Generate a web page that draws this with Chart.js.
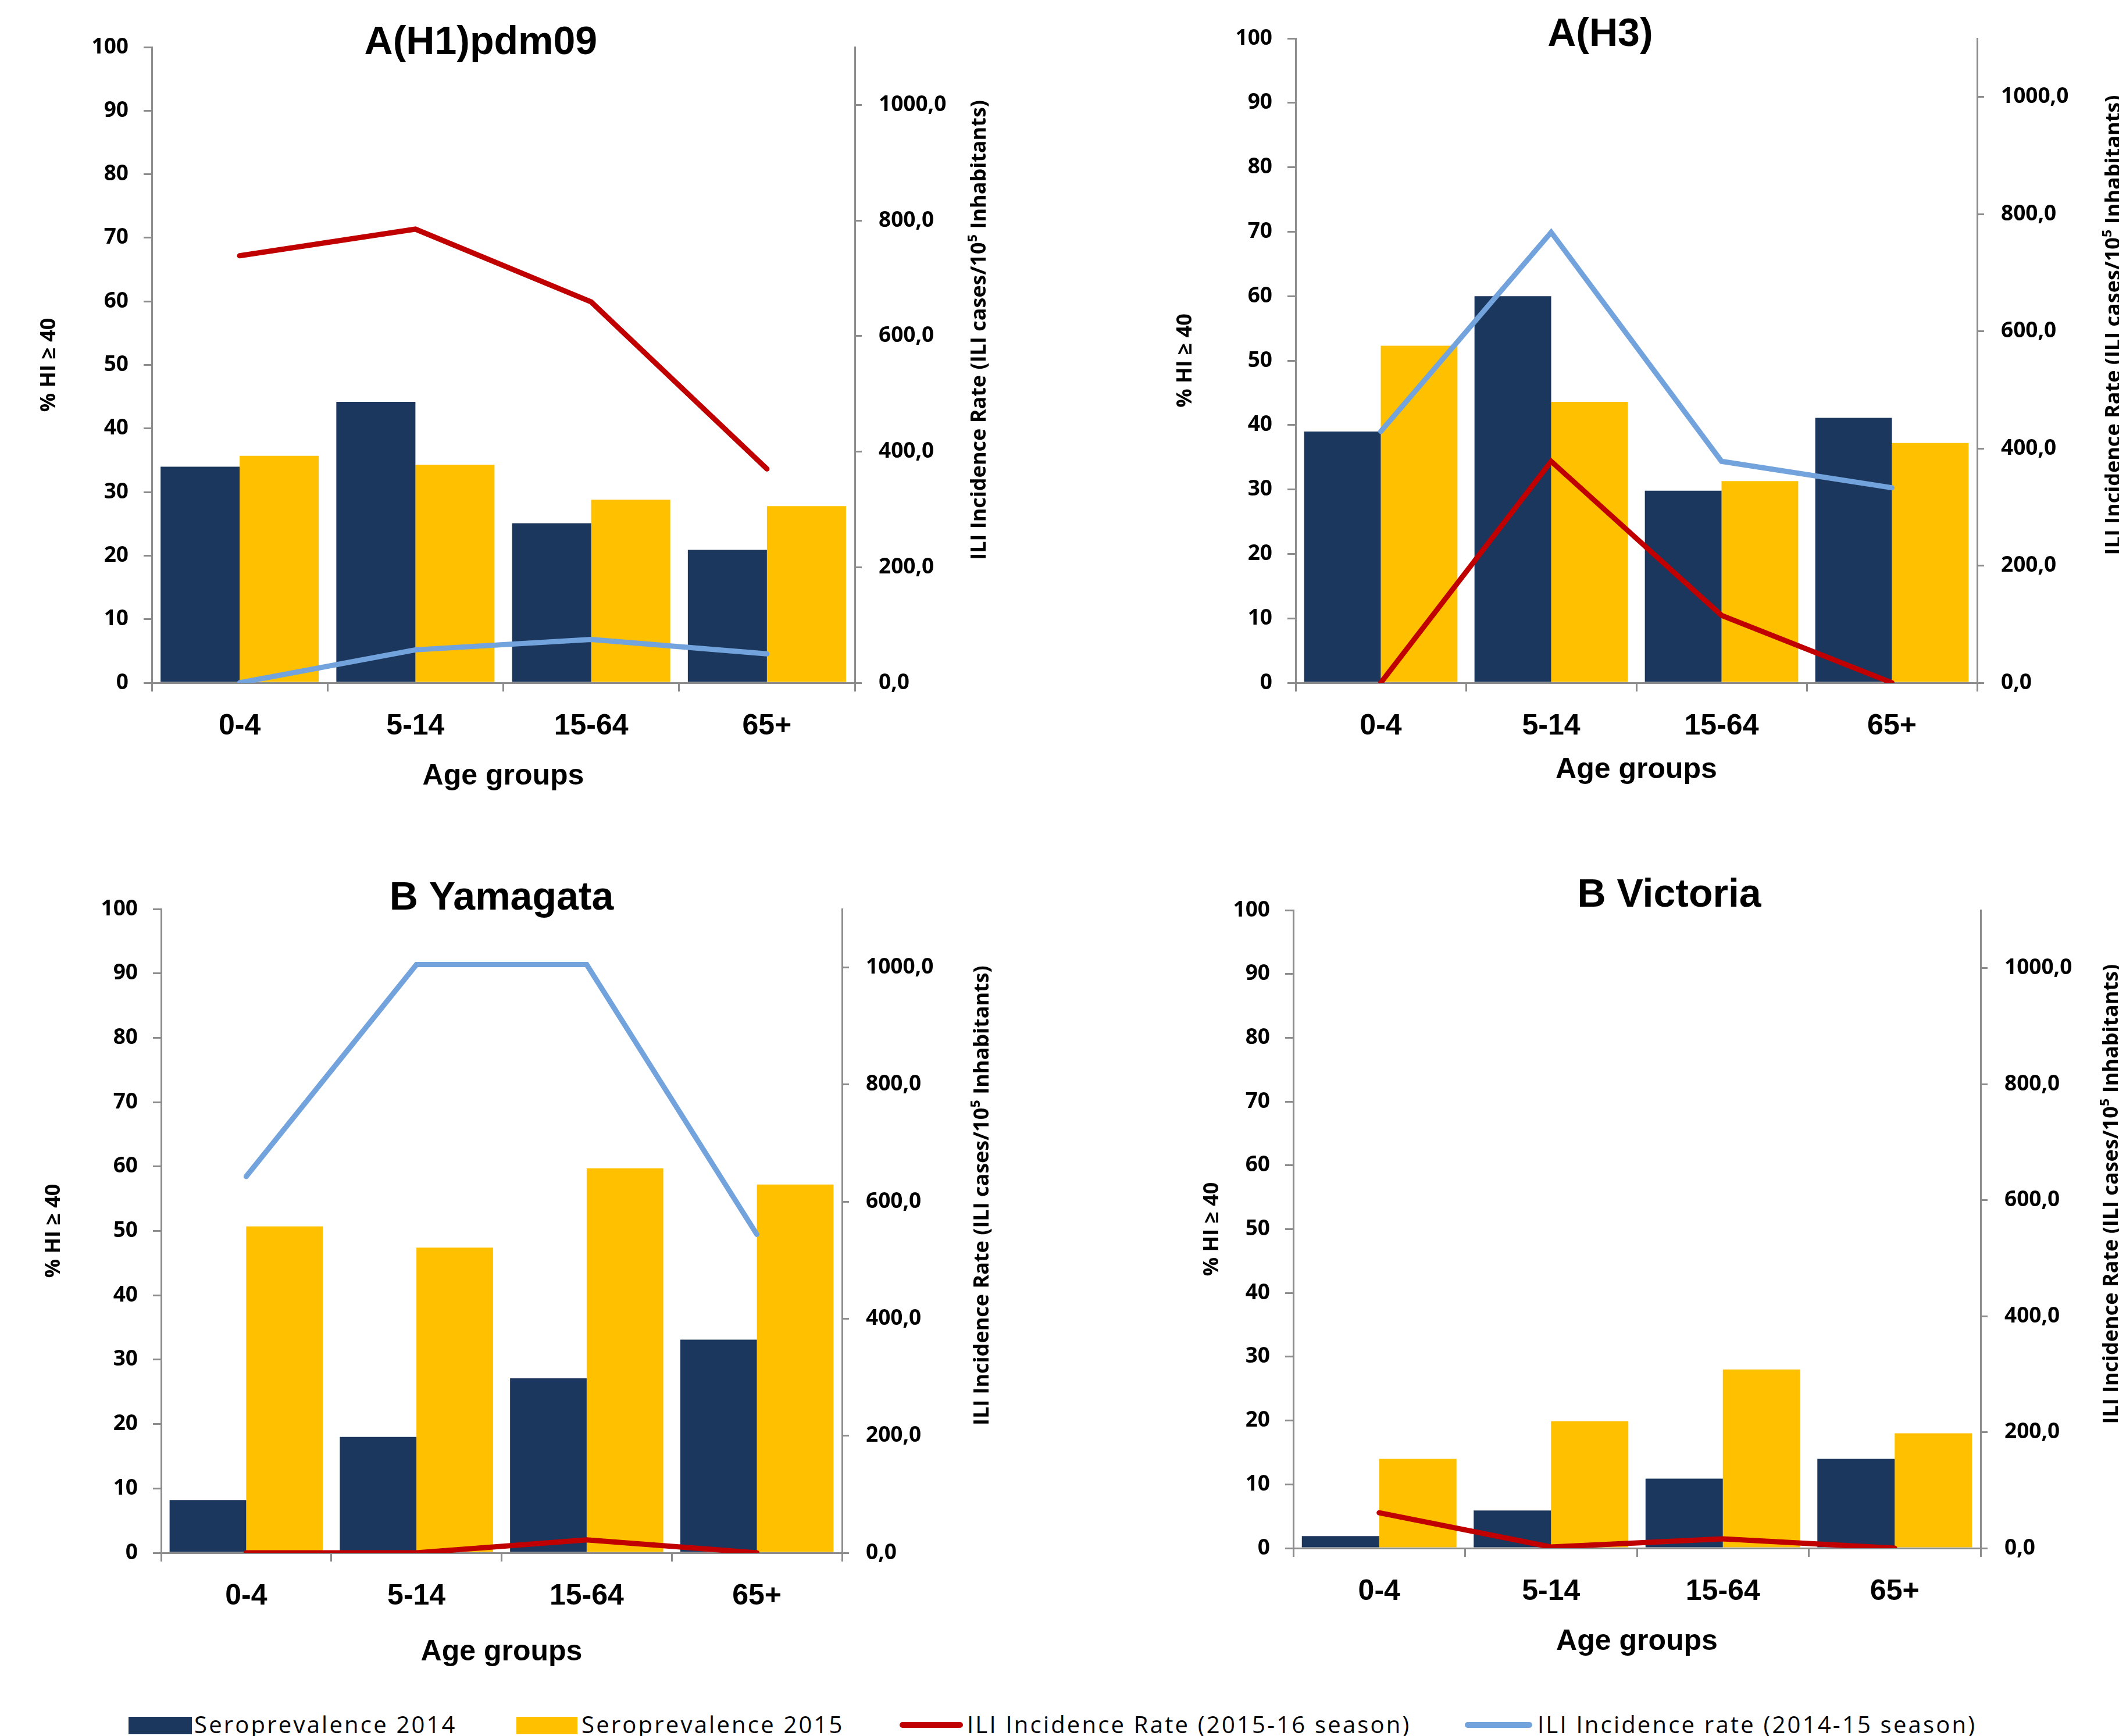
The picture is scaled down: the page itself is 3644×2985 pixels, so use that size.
<!DOCTYPE html>
<html>
<head>
<meta charset="utf-8">
<script src="https://cdn.jsdelivr.net/npm/chart.js@4.4.1/dist/chart.umd.min.js"></script>
<style>
    html, body { margin: 0; padding: 0; background: #fff; }
    body { width: 3644px; height: 2985px; position: relative; overflow: hidden; font-family: "Open Sans", sans-serif; }
    canvas { position: absolute; }
    .lg-box { position: absolute; }
    .lg-text { position: absolute; top: 2940px; height: 50px; line-height: 50px; font-size: 40px; letter-spacing: 3.2px; color: #000; white-space: nowrap; }
</style>
</head>
<body>
<canvas id="c1"></canvas>
<canvas id="c2"></canvas>
<canvas id="c3"></canvas>
<canvas id="c4"></canvas>

<div class="lg-box" style="left:221px;top:2952px;width:109px;height:30px;background:#1b375d"></div>
<div class="lg-text" style="left:334px">Seroprevalence 2014</div>
<div class="lg-box" style="left:888px;top:2952px;width:105px;height:30px;background:#ffc000"></div>
<div class="lg-text" style="left:1000px">Seroprevalence 2015</div>
<div class="lg-box" style="left:1547px;top:2961px;width:109px;height:10px;border-radius:5px;background:#c00000"></div>
<div class="lg-text" style="left:1663px">ILI Incidence Rate (2015-16 season)</div>
<div class="lg-box" style="left:2519px;top:2961px;width:116px;height:10px;border-radius:5px;background:#72a3dc"></div>
<div class="lg-text" style="left:2644px">ILI Incidence rate (2014-15 season)</div>

<script>
// Age groups on the x axis
const ageGroups = ['0-4', '5-14', '15-64', '65+'];

// A(H1)pdm09
const h1Sero2014 = [34.0, 44.2, 25.1, 20.9];
const h1Sero2015 = [35.7, 34.3, 28.8, 27.8];
const h1Ili1516 = [739, 785, 659, 370];
const h1Ili1415 = [0, 57, 75, 50];

// A(H3)
const h3Sero2014 = [39.0, 60.0, 29.8, 41.1];
const h3Sero2015 = [52.3, 43.6, 31.3, 37.2];
const h3Ili1516 = [0, 378, 115, 0];
const h3Ili1415 = [429, 769, 378, 333];

// B Yamagata
const yamSero2014 = [8.2, 18.0, 27.1, 33.1];
const yamSero2015 = [50.7, 47.4, 59.7, 57.2];
const yamIli1516 = [0, 0, 22, 0];
const yamIli1415 = [643, 1005, 1005, 544];

// B Victoria (no 2014-15 line drawn)
const vicSero2014 = [1.9, 5.9, 10.9, 14.0];
const vicSero2015 = [14.0, 19.9, 28.0, 18.0];
const vicIli1516 = [61, 2, 16, 0];
const vicIli1415 = [null, null, null, null];

const leftTitle = '% HI \u2265 40';
const rightTitle = 'ILI Incidence Rate (ILI cases/10\u2075 Inhabitants)';
const xTitle = 'Age groups';

const AXIS_GREY = '#8c8c8c';
const PAD_TOP = 70;
const RIGHT_W = 270;

// Panel titles and the right axis title (which reads bottom-to-top)
const panelText = {
    id: 'panelText',
    afterDraw(chart, args, opts) {
        const { ctx, chartArea: a } = chart;
        ctx.save();
        ctx.fillStyle = '#000';
        ctx.textAlign = 'center';
        ctx.font = 'bold 68px "Liberation Sans", Arial, sans-serif';
        ctx.textBaseline = 'alphabetic';
        ctx.fillText(opts.title, a.left + opts.titleX * a.width, a.top + opts.titleDy);

        const y2 = chart.scales.y2;
        ctx.translate(y2.left + opts.rightX, a.top + 0.445 * a.height);
        ctx.rotate(-Math.PI / 2);
        ctx.font = 'bold 36px "Open Sans", sans-serif';
        ctx.textBaseline = 'middle';
        ctx.fillText(rightTitle, 0, 0);
        ctx.restore();
    }
};

function makePanel(canvasId, geo, title, sero2014, sero2015, ili1516, ili1415) {
    const canvas = document.getElementById(canvasId);
    const w = geo.LW + (geo.R - geo.L) + RIGHT_W;
    const h = PAD_TOP + (geo.B - geo.T) + geo.XH;
    canvas.width = w;
    canvas.height = h;
    canvas.style.left = (geo.L - geo.LW) + 'px';
    canvas.style.top = (geo.T - PAD_TOP) + 'px';
    canvas.style.width = w + 'px';
    canvas.style.height = h + 'px';

    return new Chart(canvas.getContext('2d'), {
        type: 'bar',
        data: {
            labels: ageGroups,
            datasets: [
                {
                    type: 'line', label: 'ILI Incidence Rate (2015-16 season)', data: ili1516, yAxisID: 'y2',
                    borderColor: '#c00000', borderWidth: 9, pointRadius: 0, borderCapStyle: 'round', order: 0
                },
                {
                    type: 'line', label: 'ILI Incidence rate (2014-15 season)', data: ili1415, yAxisID: 'y2',
                    borderColor: '#72a3dc', borderWidth: 9, pointRadius: 0, borderCapStyle: 'round', order: 0
                },
                {
                    label: 'Seroprevalence 2014', data: sero2014, yAxisID: 'y', backgroundColor: '#1b375d',
                    barPercentage: 1.0, categoryPercentage: 0.9, order: 1
                },
                {
                    label: 'Seroprevalence 2015', data: sero2015, yAxisID: 'y', backgroundColor: '#ffc000',
                    barPercentage: 1.0, categoryPercentage: 0.9, order: 1
                }
            ]
        },
        options: {
            responsive: false,
            animation: false,
            devicePixelRatio: 1,
            layout: { padding: { top: PAD_TOP, left: 0, right: 0, bottom: 0 } },
            plugins: {
                legend: { display: false },
                tooltip: { enabled: false },
                panelText: { title: title, titleX: geo.titleX, titleDy: geo.titleDy, rightX: geo.rightX }
            },
            scales: {
                x: {
                    afterFit: s => { s.height = geo.XH; },
                    grid: { drawOnChartArea: false, drawTicks: true, tickLength: 15, color: AXIS_GREY, lineWidth: 3 },
                    border: { display: true, color: AXIS_GREY, width: 3 },
                    ticks: { color: '#000', padding: 30, font: { family: '"Liberation Sans", Arial, sans-serif', size: 50, weight: 'bold' } },
                    title: {
                        display: true, text: xTitle, color: '#000', padding: 0,
                        font: { family: '"Liberation Sans", Arial, sans-serif', size: 50, weight: 'bold' }
                    }
                },
                y: {
                    position: 'left',
                    min: 0, max: 100,
                    afterFit: s => { s.width = geo.LW; },
                    grid: { drawOnChartArea: false, drawTicks: true, tickLength: 14, color: AXIS_GREY, lineWidth: 3 },
                    border: { display: true, color: AXIS_GREY, width: 3 },
                    ticks: { stepSize: 10, color: '#000', padding: 26, font: { family: '"Open Sans", sans-serif', size: 37, weight: 'bold' } },
                    title: {
                        display: true, text: leftTitle, color: '#000', padding: 0,
                        font: { family: '"Open Sans", sans-serif', size: 36, weight: 'bold' }
                    }
                },
                y2: {
                    position: 'right',
                    min: 0, max: 1100,
                    afterFit: s => { s.width = RIGHT_W; },
                    grid: { drawOnChartArea: false, drawTicks: true, tickLength: 12, color: AXIS_GREY, lineWidth: 3 },
                    border: { display: true, color: AXIS_GREY, width: 3 },
                    ticks: {
                        stepSize: 200, includeBounds: false, color: '#000', padding: 29,
                        font: { family: '"Open Sans", sans-serif', size: 37, weight: 'bold' },
                        callback: v => v.toFixed(1).replace('.', ',')
                    }
                }
            }
        },
        plugins: [panelText]
    });
}

makePanel('c1', { L: 261, R: 1470, T: 81, B: 1174, LW: 198, XH: 191, titleX: 0.468, titleDy: 12, rightX: 215 },
    'A(H1)pdm09', h1Sero2014, h1Sero2015, h1Ili1516, h1Ili1415);
makePanel('c2', { L: 2228, R: 3400, T: 66, B: 1174, LW: 211, XH: 180, titleX: 0.447, titleDy: 13, rightX: 236 },
    'A(H3)', h3Sero2014, h3Sero2015, h3Ili1516, h3Ili1415);
makePanel('c3', { L: 277, R: 1448, T: 1563, B: 2670, LW: 206, XH: 201, titleX: 0.5, titleDy: 1, rightX: 242 },
    'B Yamagata', yamSero2014, yamSero2015, yamIli1516, yamIli1415);
makePanel('c4', { L: 2224, R: 3406, T: 1565, B: 2662, LW: 161, XH: 191, titleX: 0.547, titleDy: -6, rightX: 226 },
    'B Victoria', vicSero2014, vicSero2015, vicIli1516, vicIli1415);
</script>
</body>
</html>
